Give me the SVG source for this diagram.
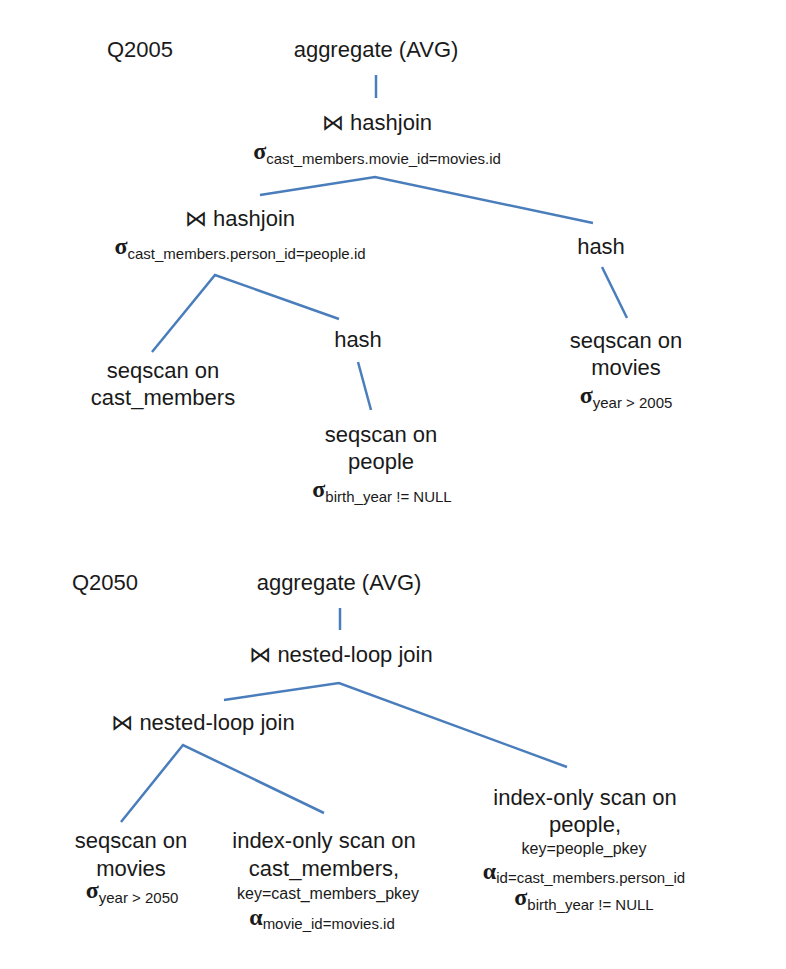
<svg xmlns="http://www.w3.org/2000/svg" width="786" height="969" viewBox="0 0 786 969">
<style>
text{font-family:"Liberation Sans","DejaVu Sans",sans-serif;fill:#1a1a1a;}
.m{font-size:22px;text-anchor:middle;}
.l{font-size:22px;}
.c{text-anchor:middle;}
.g{font-family:"Liberation Serif","DejaVu Serif",serif;font-weight:bold;font-size:24px;}
.s{font-size:15px;}
.k{font-size:16px;text-anchor:middle;}
.e{stroke:#4a7dbb;stroke-width:2.5;fill:none;stroke-linecap:butt;}
</style>
<rect width="786" height="969" fill="#ffffff"/>
<g id="connectors">
<line class="e" x1="376" y1="75" x2="376" y2="98"/>
<polyline class="e" points="260,195 375,177 593,223"/>
<polyline class="e" points="152,352 215,275 339,319"/>
<line class="e" x1="602" y1="267" x2="627" y2="318"/>
<line class="e" x1="358" y1="362" x2="371" y2="410"/>
<line class="e" x1="340" y1="608" x2="340" y2="630"/>
<polyline class="e" points="224,700 339,683 567,767"/>
<polyline class="e" points="121,822 183,745 324,813"/>
</g>
<g id="q2005-label"><text class="l" x="107" y="57">Q2005</text></g>
<g id="q2005-aggregate"><text class="m" x="376" y="57">aggregate (AVG)</text></g>
<g id="q2005-hashjoin-top">
<text class="m" x="377" y="130">⋈ hashjoin</text>
<text class="c" x="377" y="159"><tspan class="g">σ</tspan><tspan class="s" dy="5">cast_members.movie_id=movies.id</tspan></text>
</g>
<g id="q2005-hashjoin-inner">
<text class="m" x="240" y="226">⋈ hashjoin</text>
<text class="c" x="240" y="254"><tspan class="g">σ</tspan><tspan class="s" dy="5">cast_members.person_id=people.id</tspan></text>
</g>
<g id="q2005-hash-right"><text class="m" x="601" y="254">hash</text></g>
<g id="q2005-seqscan-movies">
<text class="m" x="626" y="348">seqscan on</text>
<text class="m" x="626" y="375">movies</text>
<text class="c" x="626" y="403"><tspan class="g">σ</tspan><tspan class="s" dy="5">year &gt; 2005</tspan></text>
</g>
<g id="q2005-seqscan-cast"><text class="m" x="163" y="378">seqscan on</text><text class="m" x="163" y="405">cast_members</text></g>
<g id="q2005-hash-mid"><text class="m" x="358" y="347">hash</text></g>
<g id="q2005-seqscan-people">
<text class="m" x="381" y="442">seqscan on</text>
<text class="m" x="381" y="469">people</text>
<text class="c" x="382" y="497"><tspan class="g">σ</tspan><tspan class="s" dy="5">birth_year != NULL</tspan></text>
</g>
<g id="q2050-label"><text class="l" x="72" y="590">Q2050</text></g>
<g id="q2050-aggregate"><text class="m" x="339" y="590">aggregate (AVG)</text></g>
<g id="q2050-nlj-top"><text class="m" x="341" y="662">⋈ nested-loop join</text></g>
<g id="q2050-nlj-inner"><text class="m" x="203" y="730">⋈ nested-loop join</text></g>
<g id="q2050-seqscan-movies">
<text class="m" x="131" y="848">seqscan on</text>
<text class="m" x="131" y="876">movies</text>
<text class="c" x="132" y="898"><tspan class="g">σ</tspan><tspan class="s" dy="5">year &gt; 2050</tspan></text>
</g>
<g id="q2050-index-cast">
<text class="m" x="324" y="848">index-only scan on</text>
<text class="m" x="324" y="876">cast_members,</text>
<text class="k" x="328" y="899">key=cast_members_pkey</text>
<text class="c" x="322" y="925"><tspan class="g">α</tspan><tspan class="s" dy="4">movie_id=movies.id</tspan></text>
</g>
<g id="q2050-index-people">
<text class="m" x="585" y="805">index-only scan on</text>
<text class="m" x="585" y="832">people,</text>
<text class="k" x="584" y="854">key=people_pkey</text>
<text class="c" x="584" y="879"><tspan class="g">α</tspan><tspan class="s" dy="4">id=cast_members.person_id</tspan></text>
<text class="c" x="584" y="905"><tspan class="g">σ</tspan><tspan class="s" dy="5">birth_year != NULL</tspan></text>
</g>
</svg>
